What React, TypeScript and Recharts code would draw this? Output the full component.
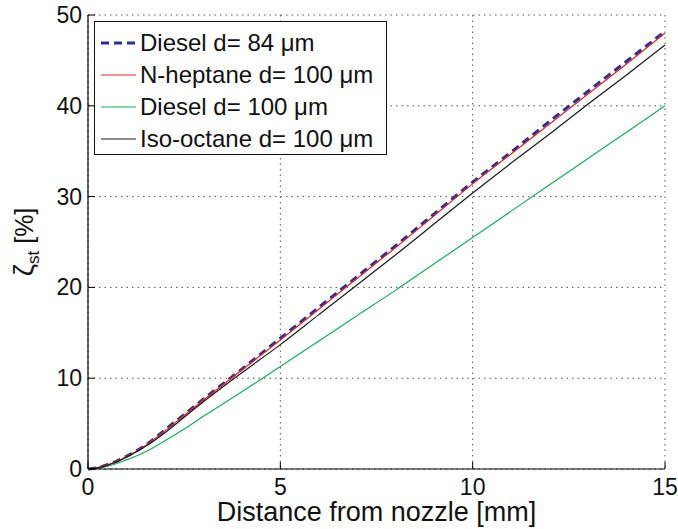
import { LineChart, Line, XAxis, YAxis, CartesianGrid } from 'recharts';

const distance = [0, 0.25, 0.5, 0.75, 1, 1.5, 2, 2.5, 3, 4, 5, 6, 7, 8, 9, 10, 11, 12, 13, 14, 15];
const diesel84 = [0, 0.15, 0.47, 0.88, 1.4, 2.65, 4.3, 6.0, 7.7, 11.0, 14.4, 17.8, 21.2, 24.6, 28.1, 31.6, 34.9, 38.3, 41.6, 44.9, 48.2];
const heptane100 = [0, 0.15, 0.45, 0.85, 1.35, 2.6, 4.2, 5.9, 7.6, 10.9, 14.2, 17.6, 21.0, 24.4, 27.9, 31.4, 34.7, 38.0, 41.3, 44.6, 48.0];
const diesel100 = [0, 0.1, 0.3, 0.6, 1.0, 1.9, 3.1, 4.4, 5.8, 8.5, 11.3, 14.1, 16.9, 19.7, 22.6, 25.5, 28.4, 31.3, 34.2, 37.1, 40.0];
const isooctane100 = [0, 0.13, 0.4, 0.8, 1.3, 2.5, 4.0, 5.7, 7.4, 10.6, 13.7, 17.0, 20.3, 23.6, 27.0, 30.4, 33.7, 36.9, 40.2, 43.4, 46.7];

const xTicks = [0, 5, 10, 15];
const yTicks = [0, 10, 20, 30, 40, 50];

const series = [
  { key: 'd84', name: 'Diesel d= 84 \u03bcm', color: '#2b3192', width: 3, dash: '8 5' },
  { key: 'hep', name: 'N-heptane d= 100 \u03bcm', color: '#ee2424', width: 1.2, dash: undefined },
  { key: 'd100', name: 'Diesel d= 100 \u03bcm', color: '#14b055', width: 1.2, dash: undefined },
  { key: 'iso', name: 'Iso-octane d= 100 \u03bcm', color: '#1a1a1a', width: 1.2, dash: undefined },
];

const data = distance.map((x, i) => ({
  x,
  d84: diesel84[i],
  hep: heptane100[i],
  d100: diesel100[i],
  iso: isooctane100[i],
}));

const FONT = '"Liberation Sans", Arial, Helvetica, sans-serif';

const BottomTick = ({ x, y, payload }: any) => (
  <g>
    <line x1={x} y1={y} x2={x} y2={y - 7} stroke="#000" />
    <text x={x} y={y + 26} textAnchor="middle" fontSize={23} fill="#111" fontFamily={FONT}>
      {payload.value}
    </text>
  </g>
);

const LeftTick = ({ x, y, payload }: any) => (
  <g>
    <line x1={x} y1={y} x2={x + 7} y2={y} stroke="#000" />
    <text x={x - 6} y={y + 8} textAnchor="end" fontSize={23} fill="#111" fontFamily={FONT}>
      {payload.value}
    </text>
  </g>
);

const TopTick = ({ x, y }: any) => <line x1={x} y1={y} x2={x} y2={y + 7} stroke="#000" />;
const RightTick = ({ x, y }: any) => <line x1={x} y1={y} x2={x - 7} y2={y} stroke="#000" />;

const YLabel = () => (
  <text
    x={33}
    y={242}
    transform="rotate(-90, 33, 242)"
    textAnchor="middle"
    fontSize={25}
    fill="#111"
    fontFamily={FONT}
  >
    <tspan fontSize={28}>{'\u03b6'}</tspan>
    <tspan dy={6} fontSize={17}>st</tspan>
    <tspan dy={-6}> [%]</tspan>
  </text>
);

const LegendBox = () => (
  <div
    style={{
      position: 'absolute',
      left: 94,
      top: 21,
      background: '#fff',
      border: '1.5px solid #111',
      width: 293,
      height: 134,
      boxSizing: 'border-box',
      padding: '5px 0 0 5px',
      fontFamily: FONT,
      fontSize: 24,
      color: '#111',
    }}
  >
    {series.map((s) => (
      <div key={s.key} style={{ display: 'flex', alignItems: 'center', height: 32 }}>
        <svg width={38} height={10} style={{ marginRight: 2 }}>
          <line x1={1} y1={5} x2={36} y2={5} stroke={s.color} strokeWidth={s.width} strokeDasharray={s.dash} />
        </svg>
        <span style={{ lineHeight: '32px', whiteSpace: 'nowrap' }}>{s.name}</span>
      </div>
    ))}
  </div>
);

export default function App() {
  return (
    <div style={{ position: 'absolute', left: 0, top: 0, width: 678, height: 529, background: '#fff' }}>
      <LineChart width={678} height={529} data={data} margin={{ top: 15, right: 13, left: 0, bottom: 0 }}>
        <CartesianGrid stroke="#555" strokeDasharray="1.5 4" />
        <XAxis
          dataKey="x"
          type="number"
          domain={[0, 15]}
          ticks={xTicks}
          height={60}
          tickSize={0}
          tickMargin={0}
          tickLine={false}
          axisLine={{ stroke: '#000', strokeWidth: 1.2 }}
          tick={<BottomTick />}
          label={{ value: 'Distance from nozzle [mm]', position: 'insideBottom', offset: 8, fontSize: 27, fill: '#111', fontFamily: FONT }}
        />
        <XAxis
          xAxisId="top"
          orientation="top"
          dataKey="x"
          type="number"
          domain={[0, 15]}
          ticks={xTicks}
          height={0}
          tickSize={0}
          tickMargin={0}
          tickLine={false}
          axisLine={{ stroke: '#000', strokeWidth: 1.2 }}
          tick={<TopTick />}
        />
        <YAxis
          type="number"
          domain={[0, 50]}
          ticks={yTicks}
          width={88}
          tickSize={0}
          tickMargin={0}
          tickLine={false}
          axisLine={{ stroke: '#000', strokeWidth: 1.2 }}
          tick={<LeftTick />}
          label={{ content: <YLabel /> }}
        />
        <YAxis
          yAxisId="right"
          orientation="right"
          type="number"
          domain={[0, 50]}
          ticks={yTicks}
          width={0}
          tickSize={0}
          tickMargin={0}
          tickLine={false}
          axisLine={{ stroke: '#000', strokeWidth: 1.2 }}
          tick={<RightTick />}
        />
        {series.map((s) => (
          <Line
            key={s.key}
            dataKey={s.key}
            name={s.name}
            type="monotone"
            stroke={s.color}
            strokeWidth={s.width}
            strokeDasharray={s.dash}
            dot={false}
            activeDot={false}
            isAnimationActive={false}
          />
        ))}
      </LineChart>
      <LegendBox />
    </div>
  );
}
